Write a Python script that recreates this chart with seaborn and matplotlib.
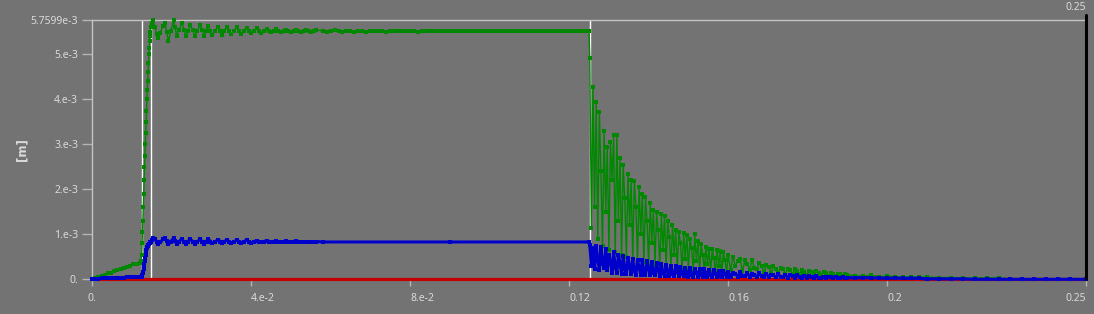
import numpy as np
import pandas as pd
import matplotlib
matplotlib.use("Agg")
import matplotlib.pyplot as plt
import seaborn as sns

# ---------------- data (displacement in mm, converted to m for the axis) ----------------
t_ramp = [0.0000, 0.0008, 0.0016, 0.0024, 0.0032, 0.0040, 0.0048, 0.0056,
          0.0064, 0.0072, 0.0080, 0.0088, 0.0096, 0.0104, 0.0112, 0.0120]
green_ramp = [0.00, 0.03, 0.05, 0.08, 0.10, 0.13, 0.15, 0.18,
              0.20, 0.23, 0.25, 0.28, 0.30, 0.33, 0.35, 0.37]
blue_ramp = [0.00, 0.00, 0.01, 0.02, 0.02, 0.03, 0.03, 0.04,
             0.04, 0.04, 0.04, 0.05, 0.05, 0.05, 0.05, 0.05]

t_rise = [0.0123, 0.0125, 0.0126, 0.0127, 0.0128, 0.0129, 0.0130, 0.0131, 0.0132,
          0.0133, 0.0134, 0.0135, 0.0136, 0.0137, 0.0138, 0.0139, 0.0140, 0.0141,
          0.0142, 0.0143, 0.0144, 0.0145, 0.0146, 0.0147, 0.0148, 0.0150, 0.0153]
green_rise = [0.40, 0.55, 0.80, 1.05, 1.30, 1.60, 1.90, 2.20, 2.50,
              2.75, 3.00, 3.25, 3.50, 3.75, 4.00, 4.20, 4.40, 4.60,
              4.80, 5.00, 5.15, 5.30, 5.40, 5.50, 5.60, 5.70, 5.76]
blue_rise = [0.05, 0.06, 0.08, 0.10, 0.13, 0.17, 0.22, 0.28, 0.34,
             0.41, 0.48, 0.55, 0.61, 0.66, 0.69, 0.72, 0.74, 0.76,
             0.77, 0.78, 0.79, 0.80, 0.81, 0.82, 0.84, 0.87, 0.91]

t_settle = [0.0158, 0.0163, 0.0167, 0.0172, 0.0178, 0.0184, 0.0188, 0.0192, 0.0198, 0.0205,
            0.0209, 0.0213, 0.0219, 0.0226, 0.0231, 0.0236, 0.0241, 0.0247, 0.0253, 0.0259,
            0.0265, 0.0272, 0.0277, 0.0282, 0.0287, 0.0293, 0.0298, 0.0303, 0.0310, 0.0318,
            0.0323, 0.0328, 0.0333, 0.0339, 0.0344, 0.0350, 0.0357, 0.0364, 0.0369, 0.0375,
            0.0382, 0.0389, 0.0394, 0.0400, 0.0407, 0.0414, 0.0419, 0.0425, 0.0432, 0.0439,
            0.0444, 0.0450, 0.0457, 0.0464, 0.0469, 0.0475, 0.0482, 0.0489, 0.0494, 0.0500,
            0.0507, 0.0514, 0.0519, 0.0525, 0.0532, 0.0539, 0.0545, 0.0551, 0.0558, 0.0564]
green_settle = [5.62, 5.45, 5.37, 5.48, 5.64, 5.70, 5.50, 5.29, 5.52, 5.76,
                5.60, 5.41, 5.55, 5.70, 5.55, 5.41, 5.53, 5.66, 5.54, 5.41,
                5.53, 5.66, 5.54, 5.42, 5.53, 5.63, 5.53, 5.43, 5.53, 5.62,
                5.53, 5.44, 5.53, 5.61, 5.53, 5.45, 5.53, 5.60, 5.53, 5.46,
                5.53, 5.59, 5.53, 5.47, 5.53, 5.58, 5.53, 5.48, 5.53, 5.57,
                5.53, 5.49, 5.53, 5.56, 5.53, 5.50, 5.53, 5.55, 5.53, 5.50,
                5.53, 5.55, 5.53, 5.51, 5.53, 5.54, 5.52, 5.51, 5.52, 5.54]
blue_settle = [0.90, 0.84, 0.79, 0.82, 0.89, 0.91, 0.85, 0.78, 0.84, 0.91,
               0.85, 0.78, 0.84, 0.90, 0.84, 0.78, 0.84, 0.90, 0.84, 0.79,
               0.84, 0.89, 0.84, 0.79, 0.84, 0.89, 0.84, 0.80, 0.84, 0.88,
               0.84, 0.80, 0.84, 0.88, 0.84, 0.80, 0.84, 0.87, 0.84, 0.81,
               0.84, 0.87, 0.84, 0.81, 0.84, 0.86, 0.84, 0.82, 0.84, 0.86,
               0.84, 0.82, 0.84, 0.86, 0.84, 0.82, 0.84, 0.85, 0.84, 0.83,
               0.84, 0.85, 0.84, 0.83, 0.84, 0.84, 0.84, 0.83, 0.84, 0.84]

t_flat = [0.058, 0.059, 0.060, 0.061, 0.062, 0.063, 0.064, 0.065, 0.066, 0.067,
          0.068, 0.069, 0.070, 0.071, 0.072, 0.073, 0.074, 0.075, 0.076, 0.077,
          0.078, 0.079, 0.080, 0.081, 0.082, 0.083, 0.084, 0.085, 0.086, 0.087,
          0.088, 0.089, 0.090, 0.091, 0.092, 0.093, 0.094, 0.095, 0.096, 0.097,
          0.098, 0.099, 0.100, 0.101, 0.102, 0.103, 0.104, 0.105, 0.106, 0.107,
          0.108, 0.109, 0.110, 0.111, 0.112, 0.113, 0.114, 0.115, 0.116, 0.117,
          0.118, 0.119, 0.120, 0.121, 0.122, 0.123, 0.124, 0.1250]
green_flat = [5.53, 5.51, 5.52, 5.54, 5.52, 5.51, 5.53, 5.52, 5.51, 5.53,
              5.52, 5.51, 5.53, 5.52, 5.52, 5.53, 5.51, 5.52, 5.53, 5.52,
              5.52, 5.53, 5.52, 5.52, 5.51, 5.52, 5.53, 5.52, 5.52, 5.52,
              5.53, 5.52, 5.52, 5.52, 5.52, 5.53, 5.52, 5.52, 5.52, 5.52,
              5.52, 5.52, 5.53, 5.52, 5.52, 5.52, 5.52, 5.52, 5.52, 5.52,
              5.52, 5.52, 5.52, 5.52, 5.52, 5.52, 5.52, 5.52, 5.52, 5.52,
              5.52, 5.52, 5.52, 5.52, 5.52, 5.52, 5.52, 5.52]
t_flat_blue = [0.0580, 0.0900, 0.1250]
blue_flat = [0.83, 0.83, 0.83]

# release phase: dense samples first, then sparser
t_decay_fast = [0.1252, 0.1256, 0.1260, 0.1264, 0.1268, 0.1272, 0.1276, 0.1280,
                0.1284, 0.1288, 0.1292, 0.1296, 0.1300, 0.1304, 0.1308, 0.1312,
                0.1316, 0.1320, 0.1324, 0.1328, 0.1332, 0.1336, 0.1340, 0.1344,
                0.1348, 0.1352, 0.1356, 0.1360, 0.1364, 0.1368, 0.1372, 0.1376,
                0.1380, 0.1384, 0.1388, 0.1392, 0.1396, 0.1400, 0.1404, 0.1408,
                0.1412, 0.1416, 0.1420, 0.1424, 0.1428, 0.1432, 0.1436, 0.1440,
                0.1444, 0.1448, 0.1452, 0.1456, 0.1460, 0.1464, 0.1468, 0.1472,
                0.1476, 0.1480, 0.1484, 0.1488, 0.1492, 0.1496, 0.1500, 0.1504,
                0.1508, 0.1512, 0.1516, 0.1520, 0.1524, 0.1528, 0.1532, 0.1536,
                0.1540, 0.1544, 0.1548, 0.1552, 0.1556, 0.1560, 0.1564, 0.1568,
                0.1572, 0.1576, 0.1580, 0.1584, 0.1588, 0.1592, 0.1596, 0.1600]
green_decay_fast = [4.92, 1.15, 4.28, 1.60, 3.95, 0.90, 3.72, 2.40,
                    0.75, 3.30, 1.50, 2.95, 0.65, 3.05, 2.20, 3.20,
                    0.60, 3.22, 1.30, 2.70, 0.55, 2.55, 1.80, 0.50,
                    2.35, 1.20, 2.20, 0.45, 2.19, 1.60, 0.42, 2.05,
                    1.00, 1.90, 0.38, 1.82, 1.30, 0.35, 1.70, 0.80,
                    1.55, 0.32, 1.50, 1.10, 0.30, 1.45, 0.65, 1.40,
                    0.28, 1.30, 0.95, 0.26, 1.20, 0.55, 1.10, 0.24,
                    1.05, 0.80, 0.22, 1.02, 0.45, 0.99, 0.21, 0.90,
                    0.70, 0.20, 1.00, 0.40, 0.85, 0.19, 0.78, 0.55,
                    0.18, 0.72, 0.35, 0.68, 0.17, 0.68, 0.48, 0.16,
                    0.66, 0.30, 0.62, 0.15, 0.60, 0.42, 0.15, 0.55]
blue_decay_fast = [0.76, 0.30, 0.70, 0.22, 0.74, 0.45, 0.21, 0.72,
                   0.35, 0.25, 0.68, 0.20, 0.55, 0.40, 0.15, 0.60,
                   0.28, 0.14, 0.55, 0.35, 0.12, 0.52, 0.22, 0.12,
                   0.48, 0.30, 0.11, 0.46, 0.18, 0.10, 0.44, 0.26,
                   0.10, 0.42, 0.16, 0.09, 0.40, 0.24, 0.09, 0.38,
                   0.14, 0.09, 0.36, 0.20, 0.08, 0.34, 0.13, 0.08,
                   0.32, 0.18, 0.08, 0.30, 0.12, 0.07, 0.29, 0.16,
                   0.07, 0.28, 0.11, 0.07, 0.26, 0.15, 0.06, 0.25,
                   0.10, 0.06, 0.24, 0.14, 0.06, 0.23, 0.09, 0.06,
                   0.22, 0.13, 0.05, 0.21, 0.09, 0.05, 0.20, 0.12,
                   0.05, 0.19, 0.08, 0.05, 0.18, 0.11, 0.05, 0.17]

t_decay_mid = [0.1606, 0.1612, 0.1618, 0.1624, 0.1630, 0.1636, 0.1642, 0.1648, 0.1654, 0.1660,
               0.1666, 0.1672, 0.1678, 0.1684, 0.1690, 0.1696, 0.1702, 0.1708, 0.1714, 0.1720,
               0.1726, 0.1732, 0.1738, 0.1744, 0.1750, 0.1756, 0.1762, 0.1768, 0.1774, 0.1780,
               0.1786, 0.1792, 0.1798, 0.1804, 0.1810, 0.1816, 0.1822, 0.1828, 0.1834, 0.1840,
               0.1846, 0.1852, 0.1858, 0.1864, 0.1870, 0.1876, 0.1882, 0.1888, 0.1894, 0.1900]
green_decay_mid = [0.20, 0.50, 0.30, 0.40, 0.46, 0.18, 0.42, 0.35, 0.20, 0.44,
                   0.25, 0.22, 0.36, 0.30, 0.16, 0.32, 0.28, 0.15, 0.30, 0.22,
                   0.14, 0.26, 0.24, 0.12, 0.24, 0.20, 0.12, 0.22, 0.18, 0.11,
                   0.20, 0.17, 0.10, 0.18, 0.16, 0.09, 0.18, 0.14, 0.09, 0.16,
                   0.13, 0.08, 0.14, 0.12, 0.08, 0.12, 0.11, 0.07, 0.11, 0.10]
blue_decay_mid = [0.06, 0.15, 0.12, 0.06, 0.16, 0.08, 0.07, 0.14, 0.06, 0.12,
                  0.10, 0.05, 0.13, 0.07, 0.06, 0.12, 0.05, 0.10, 0.09, 0.05,
                  0.11, 0.06, 0.05, 0.10, 0.04, 0.09, 0.08, 0.04, 0.09, 0.05,
                  0.04, 0.08, 0.04, 0.07, 0.06, 0.04, 0.07, 0.04, 0.04, 0.06,
                  0.03, 0.06, 0.05, 0.03, 0.05, 0.03, 0.03, 0.05, 0.03, 0.04]

t_decay_tail = [0.1920, 0.1940, 0.1960, 0.1980, 0.2000, 0.2020, 0.2040, 0.2060, 0.2080, 0.2100,
                0.2130, 0.2160, 0.2190, 0.2220, 0.2250, 0.2280, 0.2310, 0.2340, 0.2370, 0.2400,
                0.2430, 0.2460, 0.2500]
green_decay_tail = [0.08, 0.07, 0.09, 0.06, 0.07, 0.06, 0.05, 0.06, 0.05, 0.05,
                    0.04, 0.04, 0.03, 0.03, 0.03, 0.03, 0.01, 0.00, 0.00, 0.00,
                    0.00, 0.00, 0.00]
blue_decay_tail = [0.03, 0.04, 0.03, 0.03, 0.02, 0.03, 0.02, 0.02, 0.02, 0.01,
                   0.01, 0.01, 0.01, 0.00, 0.00, 0.00, 0.00, 0.00, 0.00, 0.00,
                   0.00, 0.00, 0.00]

t_red = [0.0, 0.25]
red_mm = [0.0, 0.0]

cursor_times = [0.0125, 0.0149, 0.1252]
end_cursor = 0.25
end_cursor_label = "0.25"

x_ticks = [0.0, 0.04, 0.08, 0.12, 0.16, 0.2, 0.25]
x_tick_labels = ["0.", "4.e-2", "8.e-2", "0.12", "0.16", "0.2", "0.25"]
y_ticks = [0.0, 1e-3, 2e-3, 3e-3, 4e-3, 5e-3, 5.7599e-3]
y_tick_labels = ["0.", "1.e-3", "2.e-3", "3.e-3", "4.e-3", "5.e-3", "5.7599e-3"]
y_label = "[m]"

# ---------------- tables ----------------
t_decay = t_decay_fast + t_decay_mid + t_decay_tail
df_green = pd.DataFrame({
    "time": t_ramp + t_rise + t_settle + t_flat + t_decay,
    "disp": np.array(green_ramp + green_rise + green_settle + green_flat
                     + green_decay_fast + green_decay_mid + green_decay_tail) * 1e-3})
df_blue = pd.DataFrame({
    "time": t_ramp + t_rise + t_settle + t_flat_blue + t_decay,
    "disp": np.array(blue_ramp + blue_rise + blue_settle + blue_flat
                     + blue_decay_fast + blue_decay_mid + blue_decay_tail) * 1e-3})
df_red = pd.DataFrame({"time": t_red, "disp": np.array(red_mm) * 1e-3})

# ---------------- style ----------------
sns.set_style("ticks")
plt.rcParams['font.family'] = ['Noto Sans', 'DejaVu Sans']

BG = '#737373'
TXT = '#dadada'
TICK = '#b4b4b4'
SPINE = '#c4c4c4'
GREEN = '#008800'
BLUE = '#0000cc'
RED = '#c40000'

W, H = 1094, 314
fig = plt.figure(figsize=(W / 100, H / 100), dpi=100, facecolor=BG)
ax = fig.add_axes([92 / W, (H - 279.3) / H, 994 / W, 259 / H])
ax.set_facecolor(BG)

for tc in cursor_times:
    ax.axvline(tc, color='white', lw=1.0, zorder=1)

sns.lineplot(data=df_red, x="time", y="disp", color=RED, lw=2.3, sort=False,
             estimator=None, ax=ax, zorder=2.6, clip_on=False)
sns.lineplot(data=df_green, x="time", y="disp", color=GREEN, lw=1.0, sort=False,
             estimator=None, ax=ax, zorder=3, clip_on=False,
             marker='s', markersize=2.6, markeredgewidth=0, markeredgecolor=GREEN)
sns.lineplot(data=df_blue, x="time", y="disp", color=BLUE, lw=2.2, sort=False,
             estimator=None, ax=ax, zorder=4, clip_on=False,
             marker='s', markersize=3.2, markeredgewidth=0, markeredgecolor=BLUE)

ax.axvline(end_cursor, ymin=0, ymax=1.02, color='black', lw=2.2, zorder=6, clip_on=False)
ax.text(end_cursor, 1.038, end_cursor_label, transform=ax.get_xaxis_transform(),
        ha='right', va='baseline', color=TXT, fontsize=7.5)

ax.set_xlim(0, 0.25)
ax.set_ylim(0, 5.7599e-3)
ax.set_xticks(x_ticks)
ax.set_xticklabels(x_tick_labels)
ax.set_yticks(y_ticks)
ax.set_yticklabels(y_tick_labels)
ax.set_xlabel("")
ax.set_ylabel(y_label, color=TXT, fontsize=8.5, fontweight='bold', family=['DejaVu Sans'])
ax.yaxis.set_label_coords(-63.5 / 994, 0.5)

ax.tick_params(axis='y', colors=TICK, labelcolor=TXT, length=7, width=1, labelsize=7.5, pad=3)
ax.tick_params(axis='x', colors=TICK, labelcolor=TXT, length=5, width=1, labelsize=7.5, pad=5)
labels = ax.get_xticklabels()
for i, lbl in enumerate(labels):
    if i == 0:
        lbl.set_ha('center')
    elif i == len(labels) - 1:
        lbl.set_ha('right')
    else:
        lbl.set_ha('left')

for side in ['top', 'left']:
    ax.spines[side].set_color(SPINE)
    ax.spines[side].set_linewidth(1.0)
ax.spines['bottom'].set_visible(False)
ax.spines['right'].set_visible(False)

fig.savefig("out.png", dpi=100, facecolor=BG)
